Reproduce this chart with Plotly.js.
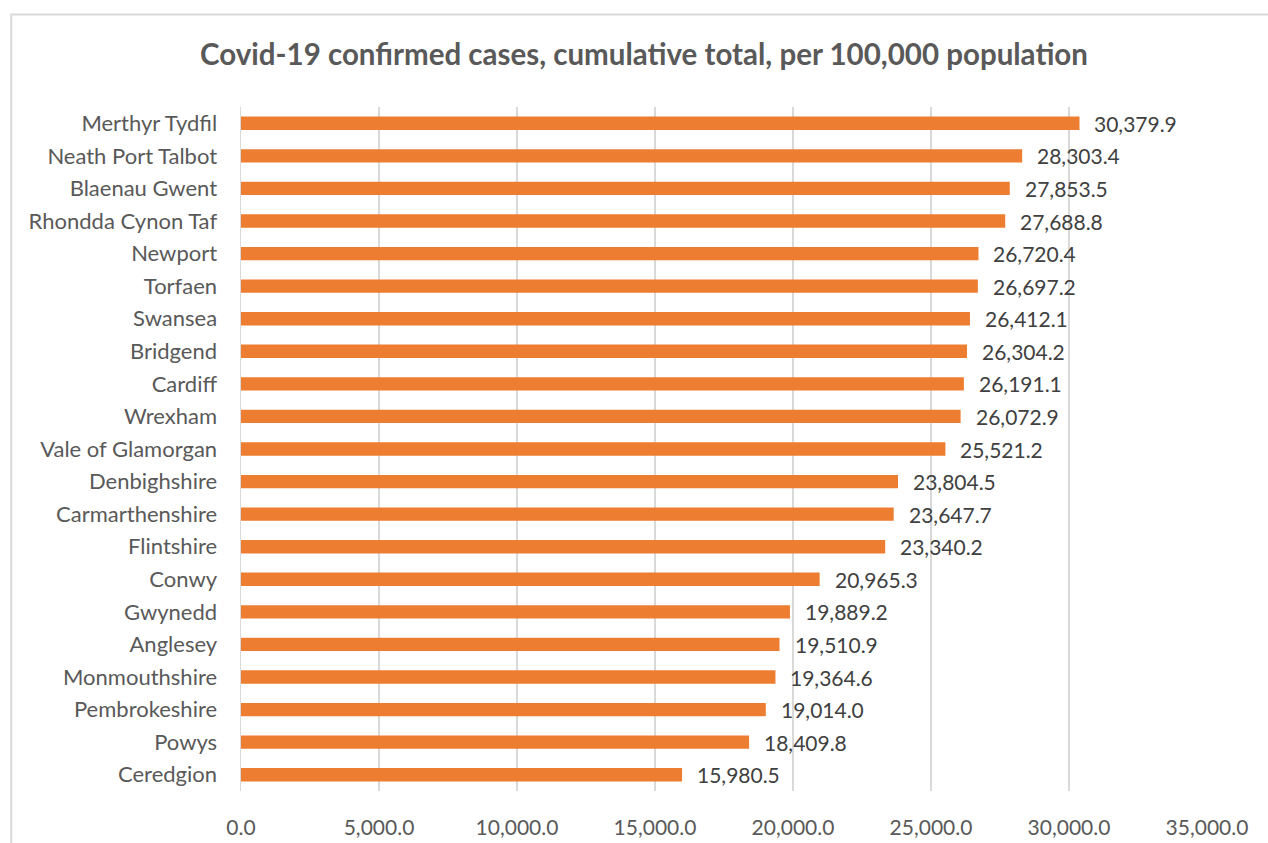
<!DOCTYPE html>
<html>
<head>
<meta charset="utf-8">
<script src="https://cdn.plot.ly/plotly-3.0.1.min.js"></script>
<style>
  html, body { margin: 0; padding: 0; background: #ffffff; overflow: hidden; }
  #chart { width: 1268px; height: 843px; }
</style>
</head>
<body>
<div id="chart"></div>
<script>
// Local authorities, ordered from highest to lowest rate
const areas = [
  "Merthyr Tydfil", "Neath Port Talbot", "Blaenau Gwent", "Rhondda Cynon Taf",
  "Newport", "Torfaen", "Swansea", "Bridgend", "Cardiff", "Wrexham",
  "Vale of Glamorgan", "Denbighshire", "Carmarthenshire", "Flintshire",
  "Conwy", "Gwynedd", "Anglesey", "Monmouthshire", "Pembrokeshire",
  "Powys", "Ceredgion"
];

// Cumulative confirmed cases per 100,000 population
const casesPer100k = [
  30379.9, 28303.4, 27853.5, 27688.8,
  26720.4, 26697.2, 26412.1, 26304.2, 26191.1, 26072.9,
  25521.2, 23804.5, 23647.7, 23340.2,
  20965.3, 19889.2, 19510.9, 19364.6, 19014.0,
  18409.8, 15980.5
];

const xTickValues = [0, 5000, 10000, 15000, 20000, 25000, 30000, 35000];
const xTickLabels = ["0.0", "5,000.0", "10,000.0", "15,000.0", "20,000.0", "25,000.0", "30,000.0", "35,000.0"];

const W = 1268, H = 843;
const M = { l: 240.5, r: 60.5, t: 107, b: 52 };
const pw = W - M.l - M.r, ph = H - M.t - M.b;
const px = v => (v - M.l) / pw;          // page pixel -> paper x
const py = v => (H - M.b - v) / ph;      // page pixel -> paper y

const font = "Lato, 'Open Sans', 'Liberation Sans', sans-serif";
const fmt = v => v.toLocaleString("en-GB", { minimumFractionDigits: 1, maximumFractionDigits: 1 });

const trace = {
  type: "bar",
  orientation: "h",
  y: areas,
  x: casesPer100k,
  marker: { color: "#ED7D31" },
  hoverinfo: "x+y"
};

// Value labels placed just past the end of each bar
const valueLabels = areas.map((a, i) => ({
  x: casesPer100k[i],
  y: a,
  xref: "x", yref: "y",
  text: fmt(casesPer100k[i]),
  showarrow: false,
  xanchor: "left",
  yanchor: "middle",
  xshift: 13,
  font: { family: font, size: 21, color: "#404040" }
}));

const layout = {
  width: W, height: H,
  margin: M,
  paper_bgcolor: "#ffffff",
  plot_bgcolor: "#ffffff",
  showlegend: false,
  bargap: 0.59,
  title: {
    text: "<b>Covid-19 confirmed cases, cumulative total, per 100,000 population</b>",
    font: { family: font, size: 29.5, color: "#595959" },
    x: 644 / W, xref: "container", xanchor: "center",
    y: 1 - 55 / H, yref: "container", yanchor: "middle"
  },
  xaxis: {
    range: [0, 35000],
    tickvals: xTickValues,
    ticktext: xTickLabels,
    showgrid: true,
    gridcolor: "#d9d9d9",
    gridwidth: 1.5,
    zeroline: false,
    showline: false,
    ticks: "outside",
    ticklen: 18,
    tickcolor: "rgba(0,0,0,0)",
    tickfont: { family: font, size: 21, color: "#595959" },
    fixedrange: true
  },
  yaxis: {
    autorange: "reversed",
    type: "category",
    showgrid: false,
    zeroline: false,
    showline: true,
    linecolor: "#d9d9d9",
    linewidth: 1.5,
    ticks: "outside",
    ticklen: 18,
    tickcolor: "rgba(0,0,0,0)",
    tickfont: { family: font, size: 22, color: "#595959" },
    fixedrange: true
  },
  annotations: valueLabels,
  shapes: [{
    type: "rect",
    xref: "paper", yref: "paper",
    x0: px(10.5), x1: px(W + 40),
    y0: py(H + 40), y1: py(14.5),
    line: { color: "#d9d9d9", width: 2 },
    fillcolor: "rgba(0,0,0,0)",
    layer: "below"
  }]
};

Plotly.newPlot("chart", [trace], layout, { displayModeBar: false, staticPlot: true });
</script>
</body>
</html>
